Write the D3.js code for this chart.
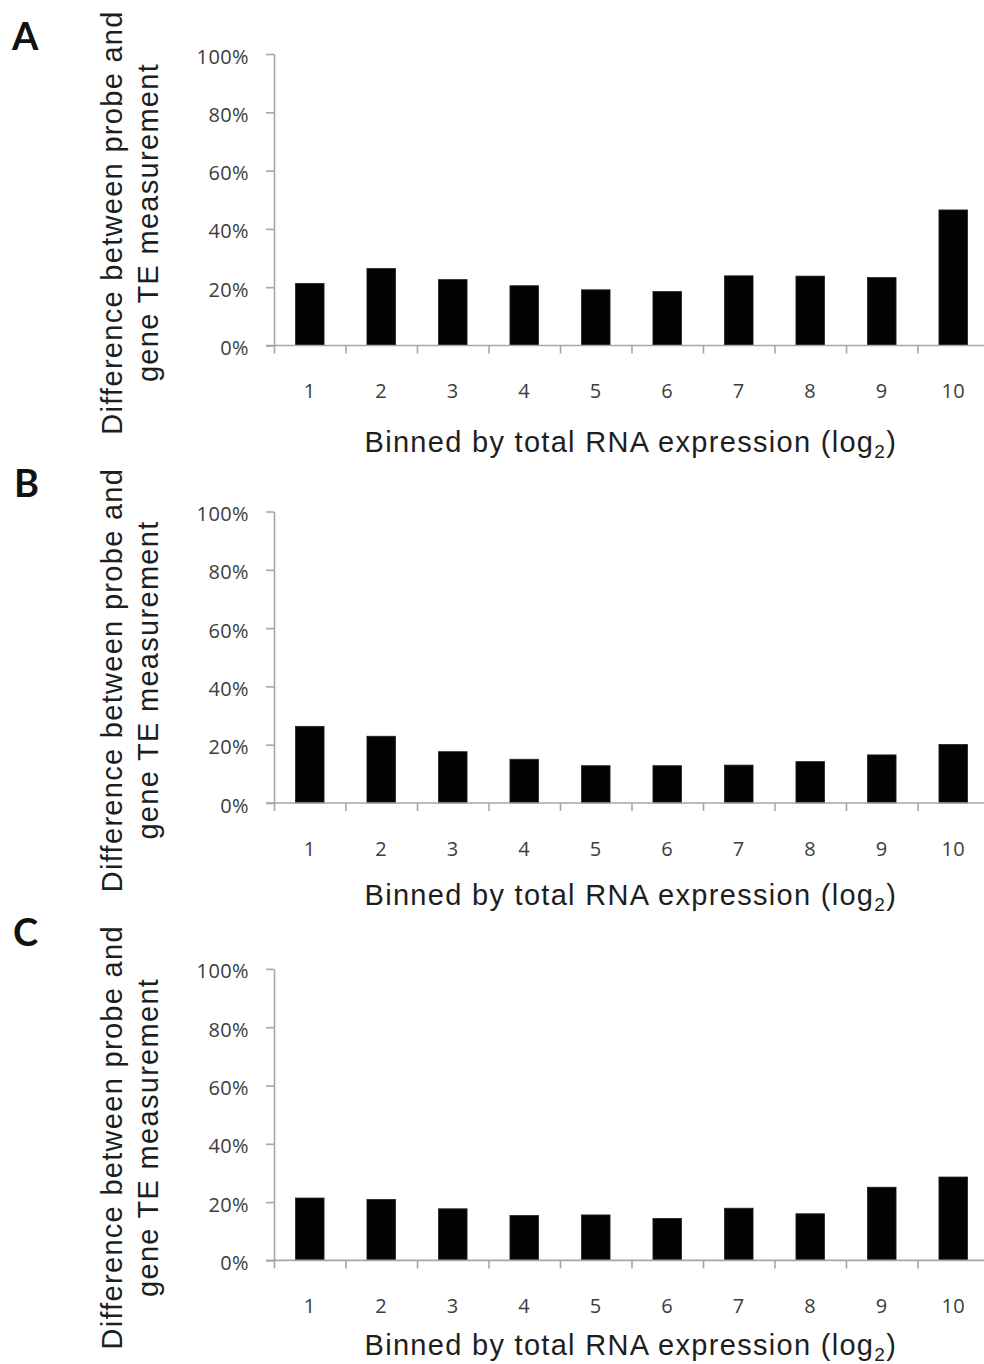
<!DOCTYPE html>
<html>
<head>
<meta charset="utf-8">
<script src="https://cdn.jsdelivr.net/npm/d3@7"></script>
<style>
  html, body { margin: 0; padding: 0; background: #fff; }
  svg { display: block; }
</style>
</head>
<body>
<script>
// Bins of total RNA expression (log2) shared by all three panels
const bins = ["1", "2", "3", "4", "5", "6", "7", "8", "9", "10"];
const yTicks = [0, 0.2, 0.4, 0.6, 0.8, 1.0];
const panelLetters = ["A", "B", "C"];

// Difference between probe and gene TE measurement, per bin
const valuesA = [0.213, 0.264, 0.226, 0.205, 0.191, 0.185, 0.239, 0.238, 0.233, 0.465];
const valuesB = [0.263, 0.229, 0.176, 0.150, 0.128, 0.128, 0.130, 0.142, 0.165, 0.201];
const valuesC = [0.214, 0.209, 0.177, 0.154, 0.156, 0.144, 0.179, 0.160, 0.251, 0.286];

const yTitleLines = ["Difference between probe and", "gene TE measurement"];
const xTitleMain = "Binned by total RNA expression (log";
const xTitleSub = "2";

// Layout
const W = 984, H = 1364;
const baselines = [345.5, 803, 1260.4];   // y of 0% in each panel
const plotH = 291.5;                      // 0% -> 100%
const xLeft = 274, xRight = 989;
const letterPos = [[12, 50], [14, 497], [13, 946]];
const xTitleBaseline = [106.8, 102, 94.8];  // below each panel's 0% line

const axisColor = "#a6a6a6";
const tickFont = "'Open Sans', Lato, sans-serif";
const letterFont = "Lato, 'Open Sans', sans-serif";
const titleFont = "'Liberation Sans', Arial, sans-serif";

const svg = d3.select("body").append("svg")
  .attr("width", W).attr("height", H)
  .attr("viewBox", `0 0 ${W} ${H}`);

const x = d3.scaleBand().domain(bins)
  .range([xLeft, xRight]).paddingInner(0.6).paddingOuter(0.3);
// category boundaries for the tick marks
const xEdges = d3.scaleLinear().domain([0, bins.length]).range([xLeft, xRight]);

const series = [valuesA, valuesB, valuesC];

series.forEach((vals, p) => {
  const base = baselines[p];
  const y = d3.scaleLinear().domain([0, 1]).range([base, base - plotH]);
  const g = svg.append("g");

  // y axis
  const yAxis = g.append("g")
    .attr("transform", `translate(${xLeft},0)`)
    .call(d3.axisLeft(y).tickValues(yTicks).tickFormat(d3.format(".0%"))
      .tickSize(8).tickSizeOuter(0).tickPadding(17));
  yAxis.select(".domain").attr("stroke", axisColor).attr("stroke-width", 1.6);
  yAxis.selectAll(".tick line").attr("stroke", axisColor).attr("stroke-width", 1.6);
  yAxis.selectAll(".tick text")
    .attr("dy", "0.45em")
    .attr("fill", "#3c3c3c")
    .style("font-family", tickFont)
    .style("font-size", "20px")
    .style("letter-spacing", "0.4px");

  // bars
  g.selectAll("rect.bar").data(vals).join("rect")
    .attr("class", "bar")
    .attr("x", (d, i) => x(bins[i]))
    .attr("width", x.bandwidth())
    .attr("y", d => y(d))
    .attr("height", d => base - y(d))
    .attr("fill", "#030303")
    .attr("stroke", "#222")
    .attr("stroke-width", 0.8);

  // x axis: boundary ticks
  const xAxis = g.append("g")
    .attr("transform", `translate(0,${base})`)
    .call(d3.axisBottom(xEdges).ticks(bins.length).tickFormat("")
      .tickSize(8).tickSizeOuter(0));
  xAxis.select(".domain").attr("stroke", axisColor).attr("stroke-width", 1.6)
    .attr("d", `M${xLeft - 8},0H${W + 10}`);
  xAxis.selectAll(".tick line").attr("stroke", axisColor).attr("stroke-width", 1.6);

  // x axis: category labels
  const xLab = g.append("g")
    .attr("transform", `translate(0,${base})`)
    .call(d3.axisBottom(x).tickSize(0).tickPadding(0));
  xLab.select(".domain").remove();
  xLab.selectAll(".tick text")
    .attr("y", 52.5).attr("dy", 0)
    .attr("fill", "#3c3c3c")
    .style("font-family", tickFont)
    .style("font-size", "20px")
    .style("letter-spacing", "0.4px");

  // y title (two lines, rotated)
  const yt = g.append("text")
    .attr("transform", `translate(121.5,${base - 123}) rotate(-90)`)
    .attr("text-anchor", "middle")
    .attr("fill", "#1e1e1e")
    .style("font-family", titleFont)
    .style("font-size", "29px")
    .style("letter-spacing", "1.3px");
  yt.append("tspan").attr("x", 0).attr("y", 0).text(yTitleLines[0]);
  yt.append("tspan").attr("x", 0).attr("y", 36.5).text(yTitleLines[1]);

  // x title with subscript
  const xt = g.append("text")
    .attr("x", 364.5).attr("y", base + xTitleBaseline[p])
    .attr("fill", "#1e1e1e")
    .style("font-family", titleFont)
    .style("font-size", "29px")
    .style("letter-spacing", "1.3px");
  xt.append("tspan").text(xTitleMain);
  xt.append("tspan").attr("dy", 6).style("font-size", "19px").text(xTitleSub);
  xt.append("tspan").attr("dy", -6).text(")");

  // panel letter
  g.append("text")
    .attr("x", letterPos[p][0]).attr("y", letterPos[p][1])
    .attr("fill", "#111")
    .style("font-family", letterFont)
    .style("font-weight", "bold")
    .style("font-size", "38px")
    .text(panelLetters[p]);
});
</script>
</body>
</html>
